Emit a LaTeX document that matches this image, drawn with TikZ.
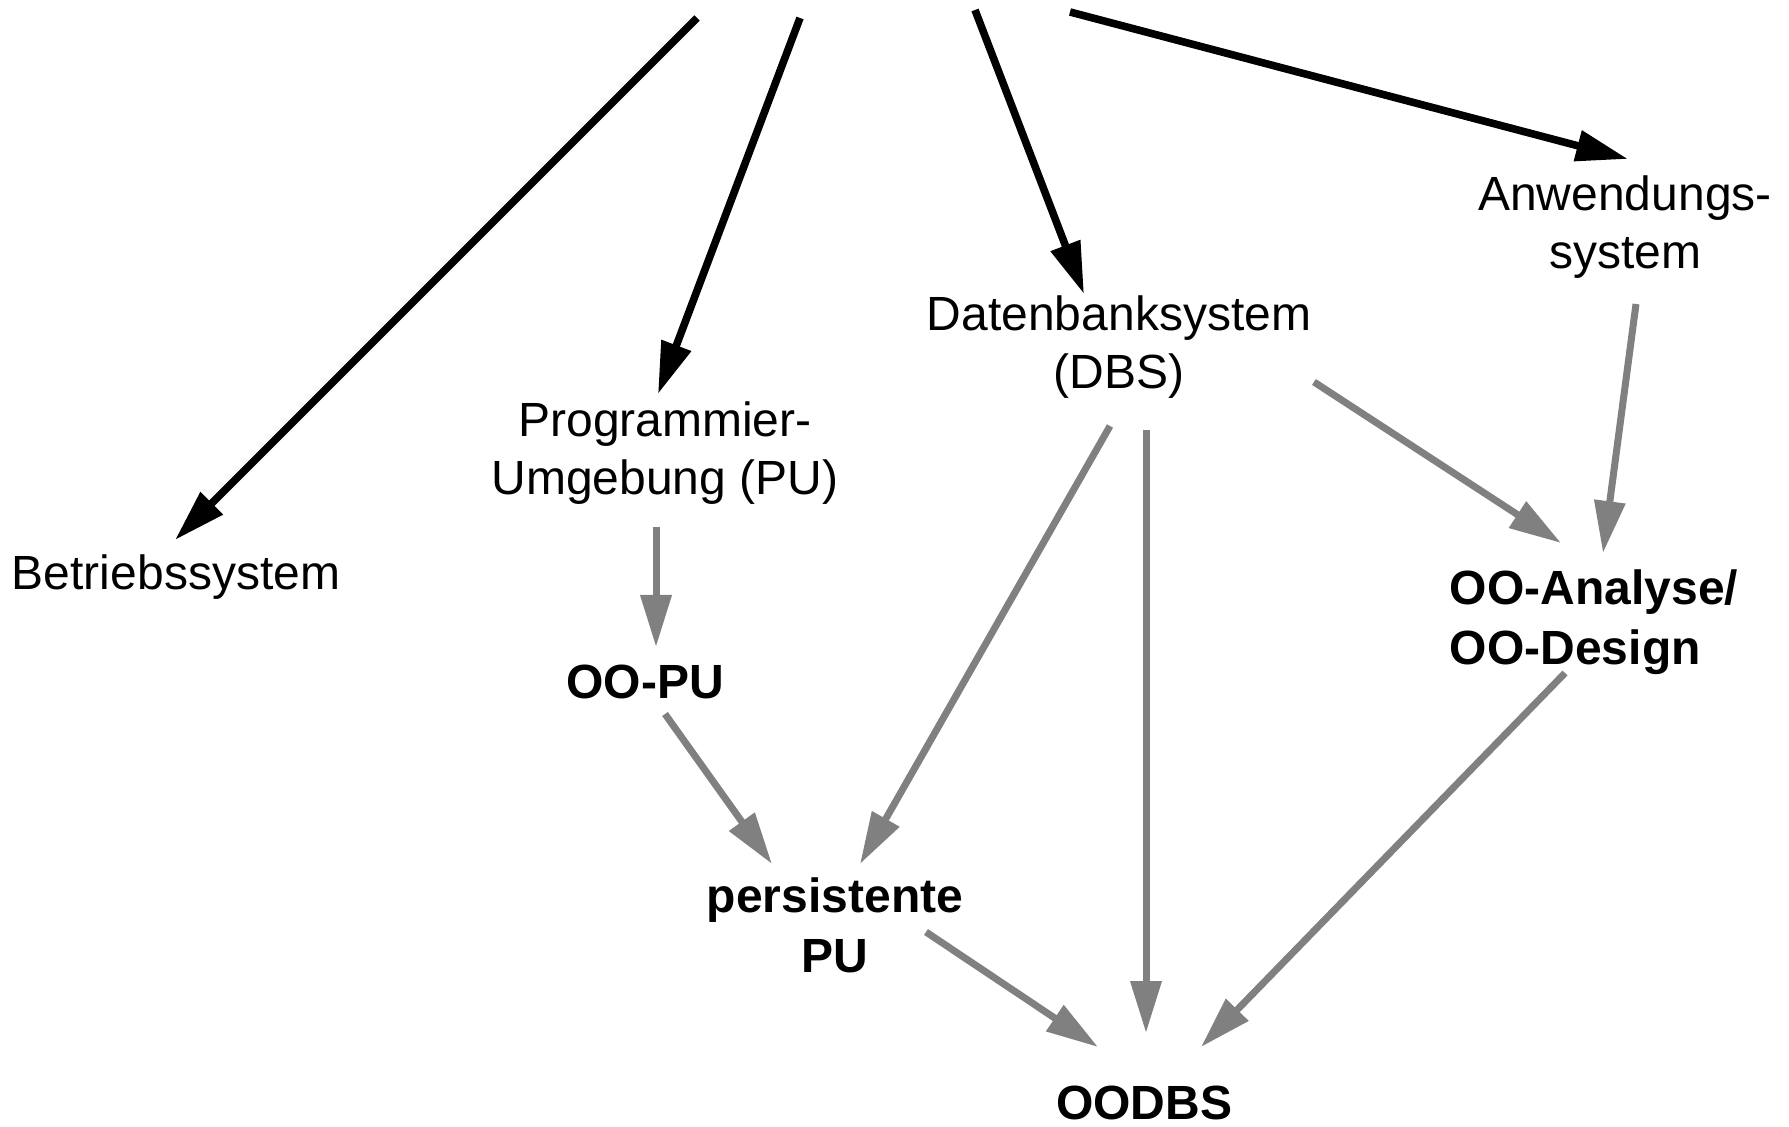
\documentclass[tikz,border=0pt]{standalone}
\usepackage{fontspec}
\setmainfont{Liberation Sans}
\usetikzlibrary{arrows.meta,calc}

\begin{document}
\begin{tikzpicture}[x=0.5pt,y=-0.5pt,
  lbl/.style={font=\fontsize{24}{29}\selectfont,align=center,inner sep=0pt},
  boldlbl/.style={lbl,font=\fontsize{24}{30}\selectfont\bfseries},
  blackarrow/.style={line width=3.8pt,-{Triangle[length=26pt,width=15pt]}},
  grayarrow/.style={line width=3.5pt,gray,-{Triangle[length=26pt,width=15pt]}}]
  \useasboundingbox (0,0) rectangle (1789,1127); % 図全体の大きさ（余白込み）

  % 上端の矢印の始点（図の外から来る）
  \coordinate (top1) at (697,18);
  \coordinate (top2) at (800,18);
  \coordinate (top3) at (975,10);
  \coordinate (top4) at (1070,12);

  \node[lbl] (bs) at (176,577) {Betriebssystem}; % 左端
  \node[lbl] (pu) at (665,453) {Programmier-\\Umgebung (PU)};
  \node[lbl] (dbs) at (1119,347) {Datenbanksystem\\(DBS)};
  \node[lbl] (anw) at (1625,227) {Anwendungs-\\system};
  \node[boldlbl] (oopu) at (645,682) {OO-PU};
  \node[boldlbl] (pers) at (835,925) {persistente\\PU};
  \node[boldlbl,align=left] (ooad) at (1594,622) {OO-Analyse/\\OO-Design};
  \node[boldlbl] (oodbs) at (1144,1103) {OODBS}; % 一番下

  % 黒い矢印：上から各システムへ
  \draw[blackarrow] (top1) -- ($(bs)+(-1,-37)$);
  \draw[blackarrow] (top2) -- ($(pu)+(-7,-59)$);
  \draw[blackarrow] (top3) -- ($(dbs)+(-35,-53)$);
  \draw[blackarrow] (top4) -- ($(anw)+(3,-68)$);

  % 灰色の矢印：オブジェクト指向への流れ
  \draw[grayarrow] ($(pu)+(-9,74)$) -- ($(oopu)+(11,-35)$);
  \draw[grayarrow] ($(oopu)+(20,32)$) -- ($(pers)+(-63,-61)$);
  \draw[grayarrow] ($(dbs)+(-9,79)$) -- ($(pers)+(25,-61)$);
  \draw[grayarrow] ($(dbs)+(27,83)$) -- ($(oodbs)+(2,-70)$);
  \draw[grayarrow] ($(dbs)+(195,35)$) -- ($(ooad)+(-33,-79)$);
  \draw[grayarrow] ($(anw)+(11,77)$) -- ($(ooad)+(9,-69)$);
  \draw[grayarrow] ($(pers)+(91,7)$) -- ($(oodbs)+(-46,-56)$);
  \draw[grayarrow] ($(ooad)+(-29,51)$) -- ($(oodbs)+(57,-56)$);
\end{tikzpicture}
\end{document}
